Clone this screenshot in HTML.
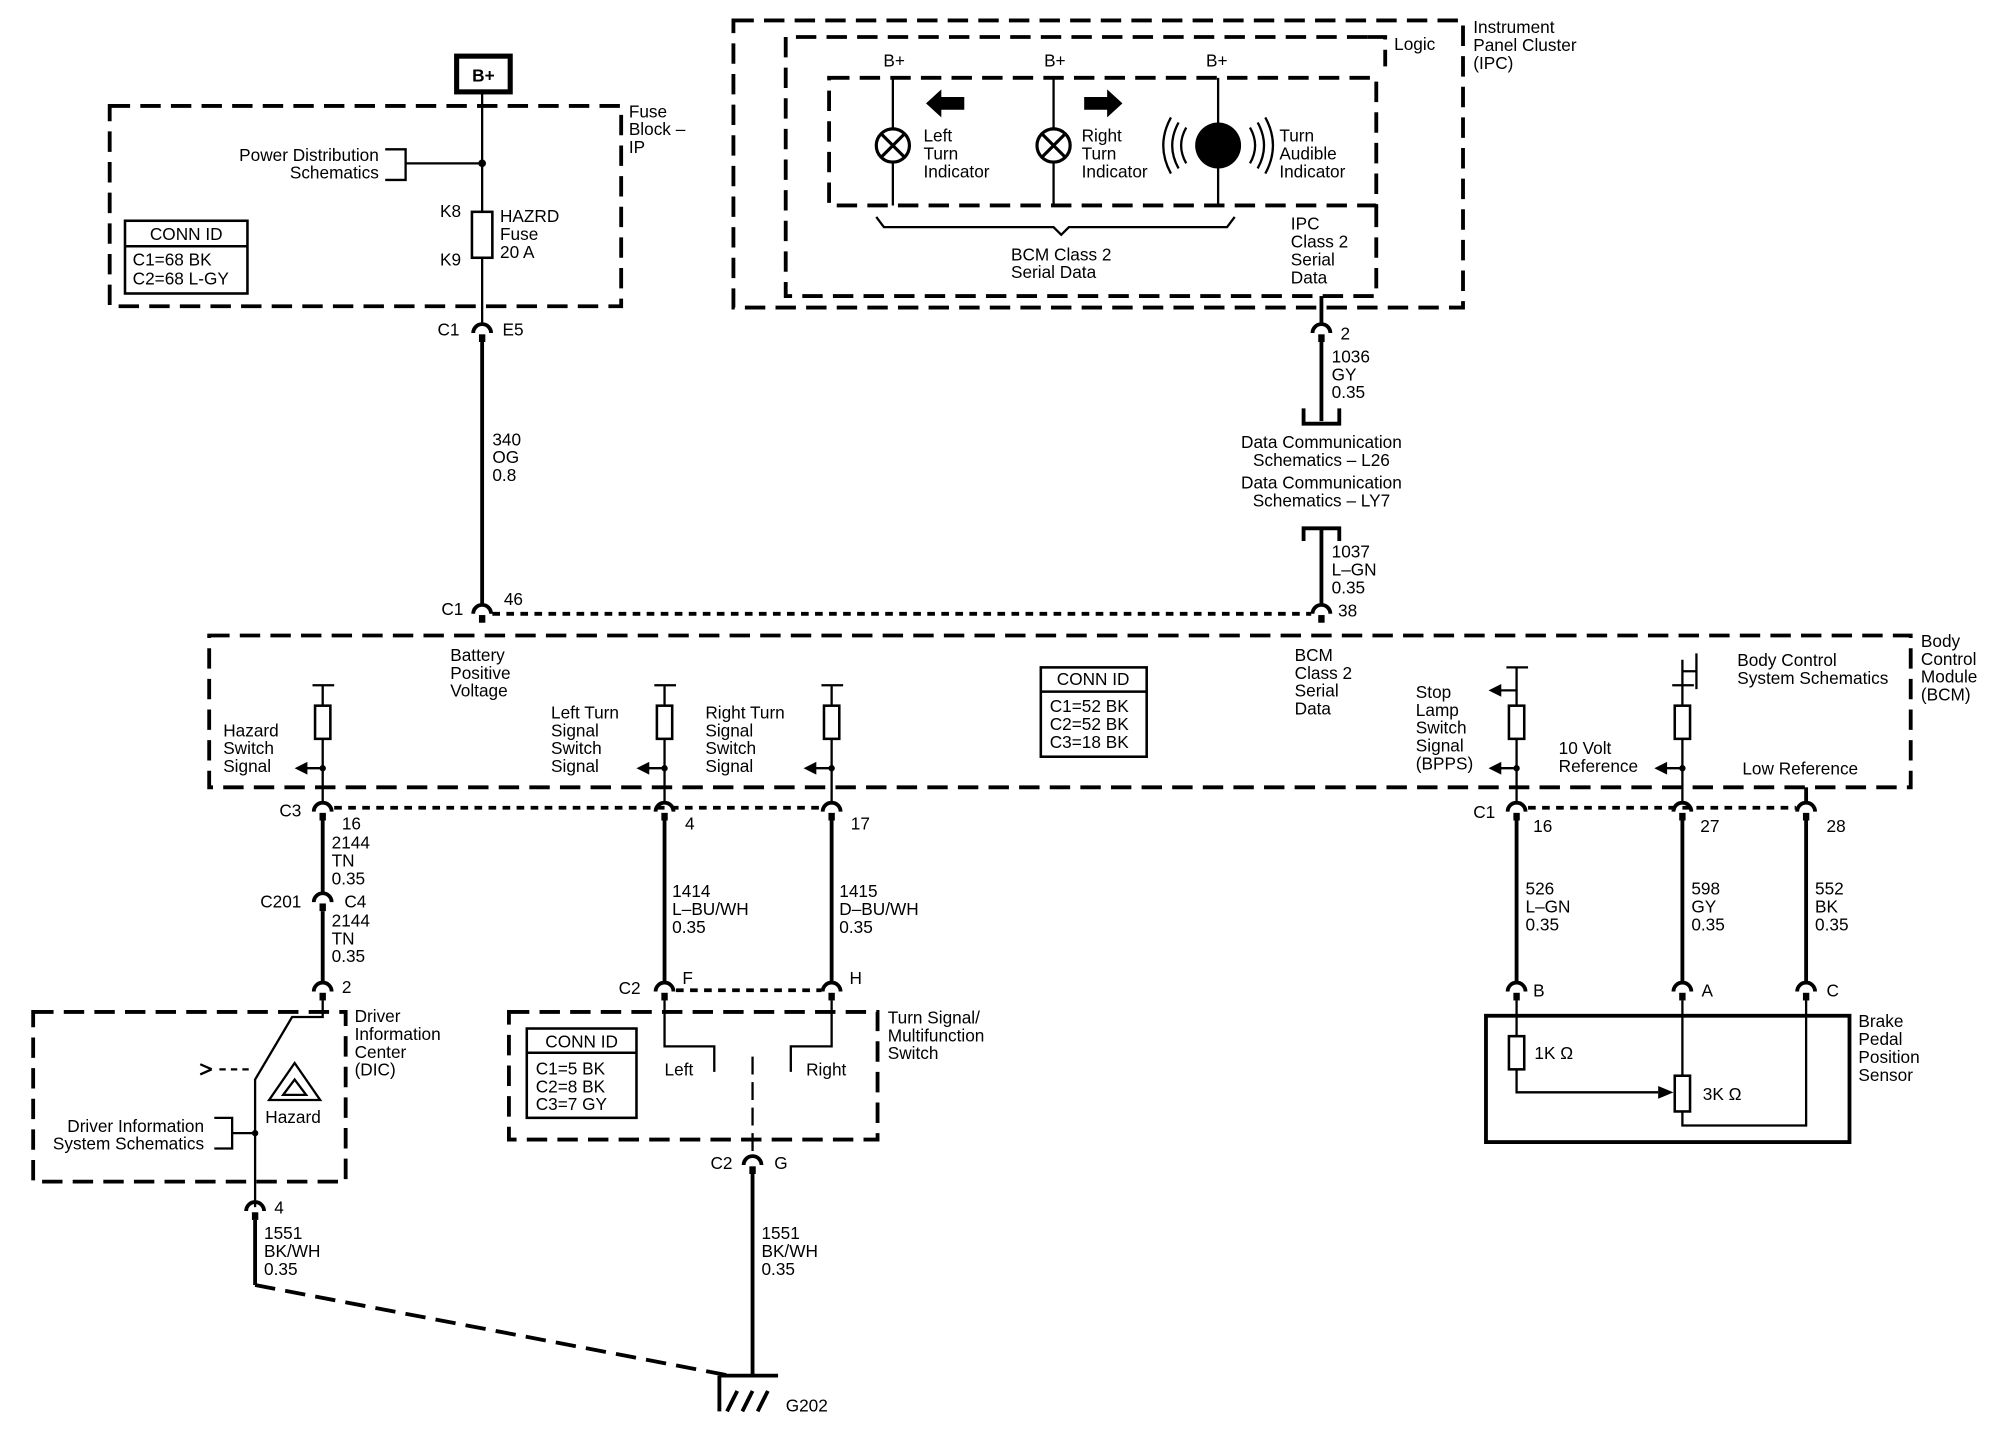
<!DOCTYPE html>
<html><head><meta charset="utf-8"><style>
html,body{margin:0;padding:0;background:#fff;}
svg{display:block}
text{font-family:"Liberation Sans",Arial,sans-serif;font-size:13.5px;fill:#000;}
.w{stroke:#000;stroke-width:3;fill:none}
.t{stroke:#000;stroke-width:1.8;fill:none}
.d{stroke:#000;stroke-width:3;fill:none;stroke-dasharray:16,8}
.dot{stroke:#000;stroke-width:3;fill:none;stroke-dasharray:6,5}
</style></head><body>
<svg width="2000" height="1456" viewBox="0 0 1568 1141" preserveAspectRatio="none" xmlns="http://www.w3.org/2000/svg">
<defs>
<g id="cn"><path d="M-7,3 A7,7 0 0 1 7,3" class="w"/><line x1="0" y1="4" x2="0" y2="10" stroke="#000" stroke-width="5"/></g>
<g id="lamp"><circle r="13" fill="#fff" stroke="#000" stroke-width="2.5"/><path d="M-9,-9 L9,9 M9,-9 L-9,9" stroke="#000" stroke-width="2.5"/></g>
<g id="inL"><path d="M0,0 L-14,0" class="t"/><path d="M-12,-5 L-22,0 L-12,5 Z" fill="#000"/></g>
</defs>

<rect x="358" y="44" width="42" height="28" fill="#fff" stroke="#000" stroke-width="4"/>
<text x="379" y="64" text-anchor="middle" font-weight="bold">B+</text>

<rect x="86" y="83" width="401" height="157" class="d"/>
<text x="493" y="92">Fuse</text><text x="493" y="106">Block –</text><text x="493" y="120">IP</text>
<text x="297" y="126" text-anchor="end">Power Distribution</text>
<text x="297" y="140" text-anchor="end">Schematics</text>
<path d="M302,117 H318 V141 H302 M318,128 H378" class="t"/>
<circle cx="378" cy="128" r="3"/>
<rect x="98" y="173" width="96" height="57" fill="none" stroke="#000" stroke-width="2"/>
<line x1="98" y1="193" x2="194" y2="193" stroke="#000" stroke-width="2"/>
<text x="146" y="188" text-anchor="middle">CONN ID</text>
<text x="104" y="208">C1=68 BK</text><text x="104" y="223">C2=68 L-GY</text>
<line x1="378" y1="72" x2="378" y2="254" class="t"/>
<rect x="370" y="166" width="16" height="36" fill="#fff" stroke="#000" stroke-width="2"/>
<text x="345" y="170">K8</text><text x="345" y="208">K9</text>
<text x="392" y="174">HAZRD</text><text x="392" y="188">Fuse</text><text x="392" y="202">20 A</text>
<use href="#cn" x="378" y="258"/>
<text x="343" y="263">C1</text><text x="394" y="263">E5</text>
<line x1="378" y1="268" x2="378" y2="474" class="w"/>
<text x="386" y="349">340</text><text x="386" y="363">OG</text><text x="386" y="377">0.8</text>
<use href="#cn" x="378" y="478"/>
<text x="346" y="482">C1</text><text x="395" y="474">46</text>
<line x1="386" y1="481" x2="1028" y2="481" class="dot"/>

<rect x="575" y="16" width="572" height="225" class="d"/>
<text x="1155" y="26">Instrument</text><text x="1155" y="40">Panel Cluster</text><text x="1155" y="54">(IPC)</text>
<path d="M1072,29 H616 V232 H1079 V161" class="d"/>
<path d="M1072,29 H1086 V52" class="d"/>
<text x="1093" y="39">Logic</text>
<rect x="650" y="61" width="429" height="100" class="d"/>
<text x="701" y="52" text-anchor="middle">B+</text><text x="827" y="52" text-anchor="middle">B+</text><text x="954" y="52" text-anchor="middle">B+</text>
<line x1="700" y1="61" x2="700" y2="161" class="t"/>
<line x1="826" y1="61" x2="826" y2="161" class="t"/>
<line x1="955" y1="61" x2="955" y2="161" class="t"/>
<use href="#lamp" x="700" y="114"/><use href="#lamp" x="826" y="114"/>
<circle cx="955" cy="114" r="18" fill="#000"/>
<path d="M930,100 Q922,114 930,128 M924,96 Q914,114 924,132 M918,92 Q906,114 918,136 M980,100 Q988,114 980,128 M986,96 Q996,114 986,132 M992,92 Q1004,114 992,136" class="t"/>
<path d="M726,81 L738,70 L738,76 L756,76 L756,86 L738,86 L738,92 Z" fill="#000"/>
<path d="M880,81 L868,70 L868,76 L850,76 L850,86 L868,86 L868,92 Z" fill="#000"/>
<text x="724" y="111">Left</text><text x="724" y="125">Turn</text><text x="724" y="139">Indicator</text>
<text x="848" y="111">Right</text><text x="848" y="125">Turn</text><text x="848" y="139">Indicator</text>
<text x="1003" y="111">Turn</text><text x="1003" y="125">Audible</text><text x="1003" y="139">Indicator</text>
<path d="M687,170 L693,178 H826 L832,184 L838,178 H962 L968,170" class="t"/>
<text x="832" y="204" text-anchor="middle">BCM Class 2</text><text x="826" y="218" text-anchor="middle">Serial Data</text>
<text x="1012" y="180">IPC</text><text x="1012" y="194">Class 2</text><text x="1012" y="208">Serial</text><text x="1012" y="222">Data</text>
<line x1="1036" y1="232" x2="1036" y2="254" class="w"/>
<use href="#cn" x="1036" y="258"/>
<text x="1051" y="266">2</text>
<line x1="1036" y1="268" x2="1036" y2="330" class="w"/>
<text x="1044" y="284">1036</text><text x="1044" y="298">GY</text><text x="1044" y="312">0.35</text>
<path d="M1022,320 V332 H1050 V320" class="w"/>
<text x="1036" y="351" text-anchor="middle">Data Communication</text>
<text x="1036" y="365" text-anchor="middle">Schematics – L26</text>
<text x="1036" y="383" text-anchor="middle">Data Communication</text>
<text x="1036" y="397" text-anchor="middle">Schematics – LY7</text>
<path d="M1022,424 V414 H1050 V424" class="w"/>
<line x1="1036" y1="414" x2="1036" y2="474" class="w"/>
<text x="1044" y="437">1037</text><text x="1044" y="451">L–GN</text><text x="1044" y="465">0.35</text>
<use href="#cn" x="1036" y="478"/>
<text x="1049" y="483">38</text>

<rect x="164" y="498" width="1334" height="119" class="d"/>
<text x="1506" y="507">Body</text><text x="1506" y="521">Control</text><text x="1506" y="535">Module</text><text x="1506" y="549">(BCM)</text>
<text x="353" y="518">Battery</text><text x="353" y="532">Positive</text><text x="353" y="546">Voltage</text>
<text x="1015" y="518">BCM</text><text x="1015" y="532">Class 2</text><text x="1015" y="546">Serial</text><text x="1015" y="560">Data</text>
<rect x="816" y="523" width="83" height="70" fill="none" stroke="#000" stroke-width="2"/>
<line x1="816" y1="542" x2="899" y2="542" stroke="#000" stroke-width="2"/>
<text x="857" y="537" text-anchor="middle">CONN ID</text>
<text x="823" y="558">C1=52 BK</text><text x="823" y="572">C2=52 BK</text><text x="823" y="586">C3=18 BK</text>

<g>
<path d="M245,537 H262 M253,537 V629" class="t"/><rect x="247" y="553" width="12" height="26" fill="#fff" stroke="#000" stroke-width="2"/>
<use href="#inL" x="253" y="602"/><circle cx="253" cy="602" r="2.5"/>
<path d="M513,537 H530 M521,537 V629" class="t"/><rect x="515" y="553" width="12" height="26" fill="#fff" stroke="#000" stroke-width="2"/>
<use href="#inL" x="521" y="602"/><circle cx="521" cy="602" r="2.5"/>
<path d="M644,537 H661 M652,537 V629" class="t"/><rect x="646" y="553" width="12" height="26" fill="#fff" stroke="#000" stroke-width="2"/>
<use href="#inL" x="652" y="602"/><circle cx="652" cy="602" r="2.5"/>
<path d="M1181,523 H1198 M1189,523 V629" class="t"/><rect x="1183" y="553" width="12" height="26" fill="#fff" stroke="#000" stroke-width="2"/>
<use href="#inL" x="1189" y="541"/><use href="#inL" x="1189" y="602"/><circle cx="1189" cy="602" r="2.5"/>
<path d="M1311,537 H1328 M1319,517 V629 M1319,526 H1330 M1330,512 V540" class="t"/><rect x="1313" y="553" width="12" height="26" fill="#fff" stroke="#000" stroke-width="2"/>
<use href="#inL" x="1319" y="602"/><circle cx="1319" cy="602" r="2.5"/>
<line x1="1416" y1="617" x2="1416" y2="629" class="w"/>
</g>
<text x="175" y="577">Hazard</text><text x="175" y="591">Switch</text><text x="175" y="605">Signal</text>
<text x="432" y="563">Left Turn</text><text x="432" y="577">Signal</text><text x="432" y="591">Switch</text><text x="432" y="605">Signal</text>
<text x="553" y="563">Right Turn</text><text x="553" y="577">Signal</text><text x="553" y="591">Switch</text><text x="553" y="605">Signal</text>
<text x="1110" y="547">Stop</text><text x="1110" y="561">Lamp</text><text x="1110" y="575">Switch</text><text x="1110" y="589">Signal</text><text x="1110" y="603">(BPPS)</text>
<text x="1222" y="591">10 Volt</text><text x="1222" y="605">Reference</text>
<text x="1366" y="607">Low Reference</text>
<text x="1362" y="522">Body Control</text><text x="1362" y="536">System Schematics</text>

<line x1="262" y1="633" x2="644" y2="633" class="dot"/>
<line x1="1198" y1="633" x2="1408" y2="633" class="dot"/>

<use href="#cn" x="253" y="633"/>
<text x="219" y="640">C3</text><text x="268" y="650">16</text>
<line x1="253" y1="643" x2="253" y2="700" class="w"/>
<text x="260" y="665">2144</text><text x="260" y="679">TN</text><text x="260" y="693">0.35</text>
<use href="#cn" x="253" y="704"/>
<text x="204" y="711">C201</text><text x="270" y="711">C4</text>
<line x1="253" y1="714" x2="253" y2="770" class="w"/>
<text x="260" y="726">2144</text><text x="260" y="740">TN</text><text x="260" y="754">0.35</text>
<use href="#cn" x="253" y="774"/>
<text x="268" y="778">2</text>

<rect x="26" y="793" width="245" height="133" class="d"/>
<text x="278" y="801">Driver</text><text x="278" y="815">Information</text><text x="278" y="829">Center</text><text x="278" y="843">(DIC)</text>
<path d="M253,784 V797 H229 L200,846 V946" class="t"/>
<path d="M157,834 L166,838 M157,842 L166,838" class="t"/>
<path d="M172,838 H196" class="t" stroke-dasharray="5,4"/>
<path d="M231,833 L251,862 L211,862 Z M231,846 L240,858 L222,858 Z" class="t"/>
<text x="208" y="880">Hazard</text>
<text x="160" y="887" text-anchor="end">Driver Information</text>
<text x="160" y="901" text-anchor="end">System Schematics</text>
<path d="M168,876 H182 V900 H168 M182,888 H200" class="t"/><circle cx="200" cy="888" r="2.5"/>
<use href="#cn" x="200" y="946"/>
<text x="215" y="951">4</text>
<line x1="200" y1="956" x2="200" y2="1007" class="w"/>
<text x="207" y="971">1551</text><text x="207" y="985">BK/WH</text><text x="207" y="999">0.35</text>
<line x1="200" y1="1007" x2="572" y2="1078" class="d"/>

<use href="#cn" x="521" y="633"/><text x="537" y="650">4</text>
<line x1="521" y1="643" x2="521" y2="770" class="w"/>
<text x="527" y="703">1414</text><text x="527" y="717">L–BU/WH</text><text x="527" y="731">0.35</text>
<use href="#cn" x="652" y="633"/><text x="667" y="650">17</text>
<line x1="652" y1="643" x2="652" y2="770" class="w"/>
<text x="658" y="703">1415</text><text x="658" y="717">D–BU/WH</text><text x="658" y="731">0.35</text>
<use href="#cn" x="521" y="774"/><text x="485" y="779">C2</text><text x="535" y="771">F</text>
<use href="#cn" x="652" y="774"/><text x="666" y="771">H</text>
<line x1="530" y1="776" x2="644" y2="776" class="dot"/>
<rect x="399" y="793" width="289" height="100" class="d"/>
<text x="696" y="802">Turn Signal/</text><text x="696" y="816">Multifunction</text><text x="696" y="830">Switch</text>
<path d="M521,784 V820 H560 V840 M652,784 V820 H620 V840" class="t"/>
<text x="521" y="843">Left</text><text x="632" y="843">Right</text>
<line x1="590" y1="828" x2="590" y2="906" class="t" stroke-dasharray="14,6"/>
<rect x="413" y="806" width="86" height="70" fill="none" stroke="#000" stroke-width="2"/>
<line x1="413" y1="825" x2="499" y2="825" stroke="#000" stroke-width="2"/>
<text x="456" y="821" text-anchor="middle">CONN ID</text>
<text x="420" y="842">C1=5 BK</text><text x="420" y="856">C2=8 BK</text><text x="420" y="870">C3=7 GY</text>
<use href="#cn" x="590" y="910"/>
<text x="557" y="916">C2</text><text x="607" y="916">G</text>
<line x1="590" y1="920" x2="590" y2="1078" class="w"/>
<text x="597" y="971">1551</text><text x="597" y="985">BK/WH</text><text x="597" y="999">0.35</text>
<path d="M564,1078 H610 M564,1078 V1106 M570,1106 L578,1090 M582,1106 L590,1090 M594,1106 L602,1090" class="w"/>
<text x="616" y="1106">G202</text>

<use href="#cn" x="1189" y="633"/><text x="1155" y="641">C1</text><text x="1202" y="652">16</text>
<use href="#cn" x="1319" y="633"/><text x="1333" y="652">27</text>
<use href="#cn" x="1416" y="633"/><text x="1432" y="652">28</text>
<line x1="1189" y1="643" x2="1189" y2="770" class="w"/>
<line x1="1319" y1="643" x2="1319" y2="770" class="w"/>
<line x1="1416" y1="643" x2="1416" y2="770" class="w"/>
<text x="1196" y="701">526</text><text x="1196" y="715">L–GN</text><text x="1196" y="729">0.35</text>
<text x="1326" y="701">598</text><text x="1326" y="715">GY</text><text x="1326" y="729">0.35</text>
<text x="1423" y="701">552</text><text x="1423" y="715">BK</text><text x="1423" y="729">0.35</text>
<use href="#cn" x="1189" y="774"/><text x="1202" y="781">B</text>
<use href="#cn" x="1319" y="774"/><text x="1334" y="781">A</text>
<use href="#cn" x="1416" y="774"/><text x="1432" y="781">C</text>
<rect x="1165" y="796" width="285" height="99" fill="none" stroke="#000" stroke-width="3"/>
<text x="1457" y="805">Brake</text><text x="1457" y="819">Pedal</text><text x="1457" y="833">Position</text><text x="1457" y="847">Sensor</text>
<path d="M1189,784 V856 H1300 M1319,784 V882 H1416 V784" class="t"/>
<path d="M1300,851 L1312,856 L1300,861 Z" fill="#000"/>
<rect x="1183" y="812" width="12" height="26" fill="#fff" stroke="#000" stroke-width="2"/>
<rect x="1313" y="843" width="12" height="28" fill="#fff" stroke="#000" stroke-width="2"/>
<text x="1203" y="830">1K Ω</text><text x="1335" y="862">3K Ω</text>
</svg>
</body></html>
